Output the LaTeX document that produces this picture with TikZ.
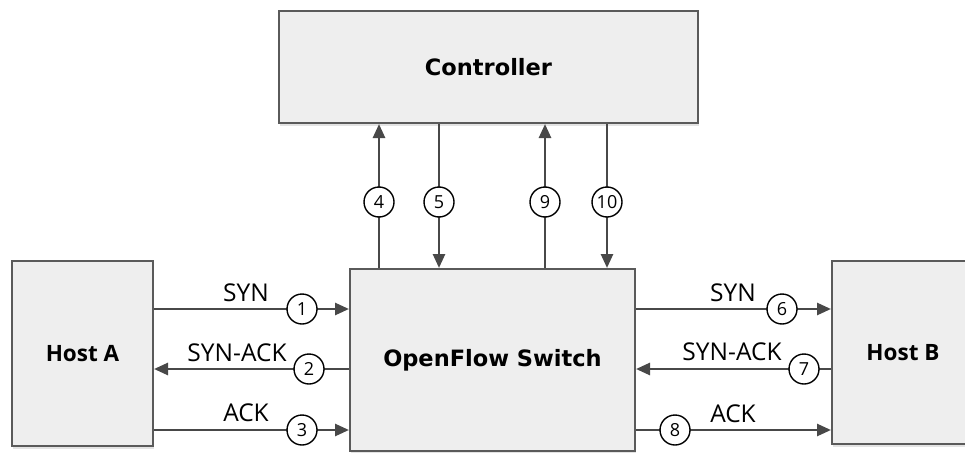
\documentclass[tikz,border=0pt]{standalone}
\usepackage{fontspec}
\setmainfont{Open Sans}
\newfontfamily\titlefont{DejaVu Sans}
\usetikzlibrary{shadows,arrows.meta}
\definecolor{boxfill}{HTML}{EEEEEE}
\definecolor{boxline}{HTML}{5A5A5A}
\definecolor{wire}{HTML}{484848}
\tikzset{
  box/.style={draw=boxline, line width=2pt, fill=boxfill, inner sep=0pt,
    drop shadow={opacity=0.22, shadow xshift=1pt, shadow yshift=-2.5pt}},
  hosttext/.style={font=\fontsize{22.5}{24}\selectfont\bfseries},
  maintext/.style={font=\titlefont\fontsize{22.5}{24}\selectfont\bfseries},
  num/.style={circle, draw=black, line width=1.4pt, fill=white, minimum size=30pt,
    inner sep=0pt, font=\fontsize{18}{19}\selectfont},
  lbl/.style={anchor=base, inner sep=0pt, font=\fontsize{24.5}{26}\selectfont},
  arr/.style={draw=wire, line width=2.6pt,
    -{Triangle[length=14pt, width=12pt]}},
}
\begin{document}
\begin{tikzpicture}[x=1pt, y=-1pt]
  \useasboundingbox (0,0) rectangle (965,452);
  \clip (0,0) rectangle (965,452);

  % boxes
  \node[box, maintext, minimum width=419pt, minimum height=112pt] (ctrl) at (488.5,67) {Controller};
  \node[box, hosttext, minimum width=141pt, minimum height=185pt] (hostA) at (82.5,353.5) {Host A};
  \node[box, maintext, minimum width=285pt, minimum height=182pt] (sw) at (492.5,360) {OpenFlow Switch};
  \node[box, hosttext, minimum width=142pt, minimum height=183pt] (hostB) at (903,352.5) {Host B};

  % step number positions
  \coordinate (c1) at (302,309);
  \coordinate (c2) at (309,369);
  \coordinate (c3) at (302,430);
  \coordinate (c4) at (379,202);
  \coordinate (c5) at (439,202);
  \coordinate (c6) at (782,309);
  \coordinate (c7) at (804,369);
  \coordinate (c8) at (675,430);
  \coordinate (c9) at (545,202);
  \coordinate (c10) at (607,202);

  % host A <-> switch
  \draw[arr] (hostA.east |- c1) -- (sw.west |- c1);
  \draw[arr] (sw.west |- c2) -- (hostA.east |- c2);
  \draw[arr] (hostA.east |- c3) -- (sw.west |- c3);
  % switch <-> host B
  \draw[arr] (sw.east |- c6) -- (hostB.west |- c6);
  \draw[arr] (hostB.west |- c7) -- (sw.east |- c7);
  \draw[arr] (sw.east |- c8) -- (hostB.west |- c8);
  % switch <-> controller
  \draw[arr] (sw.north -| c4) -- (ctrl.south -| c4);
  \draw[arr] (ctrl.south -| c5) -- (sw.north -| c5);
  \draw[arr] (sw.north -| c9) -- (ctrl.south -| c9);
  \draw[arr] (ctrl.south -| c10) -- (sw.north -| c10);

  % numbered circles sitting on the wires
  \foreach \n/\t in {c1/1,c2/2,c3/3,c4/4,c5/5,c6/6,c7/7,c8/8,c9/9,c10/10}
    \node[num] (n\t) at (\n) {\t};

  % message labels
  \node[lbl] (l1) at (246,301.5) {SYN};
  \node[lbl] (l2) at (237,361.5) {SYN-ACK};
  \node[lbl] (l3) at (246,421.5) {ACK};
  \node[lbl] (l6) at (733,301) {SYN};
  \node[lbl] (l7) at (732,360.5) {SYN-ACK};
  \node[lbl] (l8) at (733,422) {ACK};
\end{tikzpicture}
\end{document}
